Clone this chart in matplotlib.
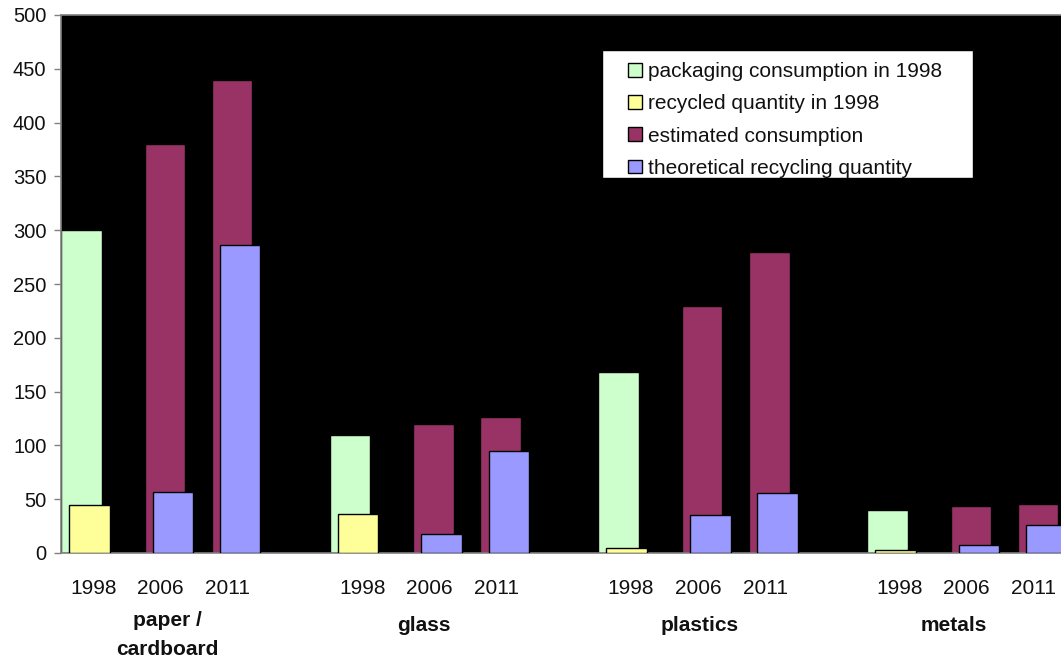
import matplotlib
matplotlib.use("Agg")
import matplotlib.pyplot as plt
from matplotlib.patches import Rectangle
import matplotlib.transforms as mtransforms

plt.rcParams['font.family'] = ['Liberation Sans', 'DejaVu Sans']

# ---- data (thousand tonnes) ----
materials = ["paper /\ncardboard", "glass", "plastics", "metals"]
years = ["1998", "2006", "2011"]
packaging_1998 = [300, 110, 168, 40]
recycled_1998 = [45, 36, 5, 3]
estimated_2006 = [380, 120, 230, 44]
estimated_2011 = [440, 126, 280, 46]
theoretical_2006 = [57, 18, 35, 7]
theoretical_2011 = [286, 95, 56, 26]

series_labels = ["packaging consumption in 1998", "recycled quantity in 1998",
                 "estimated consumption", "theoretical recycling quantity"]
colors = ["#CCFFCC", "#FFFF99", "#993366", "#9999FF"]

# ---- layout ----
group_step = 4.0
year_offsets = [0.0, 1.245, 2.245]   # left edge of rear bar within a group
bar_w = 0.603
front_shift = 0.12
group_label_x = [1.585, 1.40, 1.508, 1.295]
group_label_base = [655, 631, 631, 631]   # baseline of last line, px from top

fig = plt.figure(figsize=(10.61, 6.60), dpi=100)
ax = fig.add_axes([61 / 1061, 107 / 660, 1000 / 1061, 538 / 660])
ax.set_facecolor("black")

n = len(materials)
g0 = [i * group_step for i in range(n)]

def lefts(k):
    return [g + year_offsets[k] for g in g0]

kw = dict(width=bar_w, align="edge", edgecolor="black", linewidth=1.0)
b_pack = ax.bar(lefts(0), packaging_1998, color=colors[0], zorder=2, **kw)
b_est = ax.bar(lefts(1), estimated_2006, color=colors[2], zorder=2, **kw)
ax.bar(lefts(2), estimated_2011, color=colors[2], zorder=2, **kw)
b_rec = ax.bar([x + front_shift for x in lefts(0)], recycled_1998,
               color=colors[1], zorder=3, **kw)
b_theo = ax.bar([x + front_shift for x in lefts(1)], theoretical_2006,
                color=colors[3], zorder=3, **kw)
ax.bar([x + front_shift for x in lefts(2)], theoretical_2011,
       color=colors[3], zorder=3, **kw)

ax.set_xlim(0, 1000 / 67.17)
ax.set_ylim(0, 500)
ax.set_yticks(range(0, 501, 50))

# x tick labels: years under each bar pair
xt, xl = [], []
for g in g0:
    for i, y in enumerate(years):
        xt.append(g + i + 0.485)
        xl.append(y)
ax.set_xticks(xt)
ax.set_xticklabels(xl)
ax.tick_params(axis="x", length=0, pad=19, labelsize=15, labelcolor="#111111")
ax.tick_params(axis="y", direction="out", length=5, width=1, color="#808080",
               pad=5.5, labelsize=14.5, labelcolor="#111111")

for side in ["left", "bottom", "top"]:
    ax.spines[side].set_color("#808080")
    ax.spines[side].set_linewidth(1.2)
ax.spines["right"].set_visible(False)

# material names below the years
trans = mtransforms.blended_transform_factory(ax.transData, ax.transAxes)
for name, gx, g, yb in zip(materials, group_label_x, g0, group_label_base):
    ax.text(g + gx, (553 - yb) / 538, name, transform=trans, ha="center",
            va="baseline", fontsize=15, fontweight="bold", color="#111111",
            linespacing=1.7)

# legend box
ax.add_patch(Rectangle((0.541, 0.697), 0.371, 0.238, transform=ax.transAxes,
                       facecolor="white", edgecolor="black", linewidth=1,
                       zorder=5))
leg = ax.legend([b_pack, b_rec, b_est, b_theo], series_labels,
                loc="upper left", bbox_to_anchor=(0.567, 0.912),
                frameon=False, borderpad=0, borderaxespad=0, fontsize=15,
                handlelength=0.67, handleheight=0.63, handletextpad=0.3,
                labelspacing=0.63)
leg.set_zorder(6)
for t in leg.get_texts():
    t.set_color("#111111")

fig.savefig("out.png", dpi=100)
